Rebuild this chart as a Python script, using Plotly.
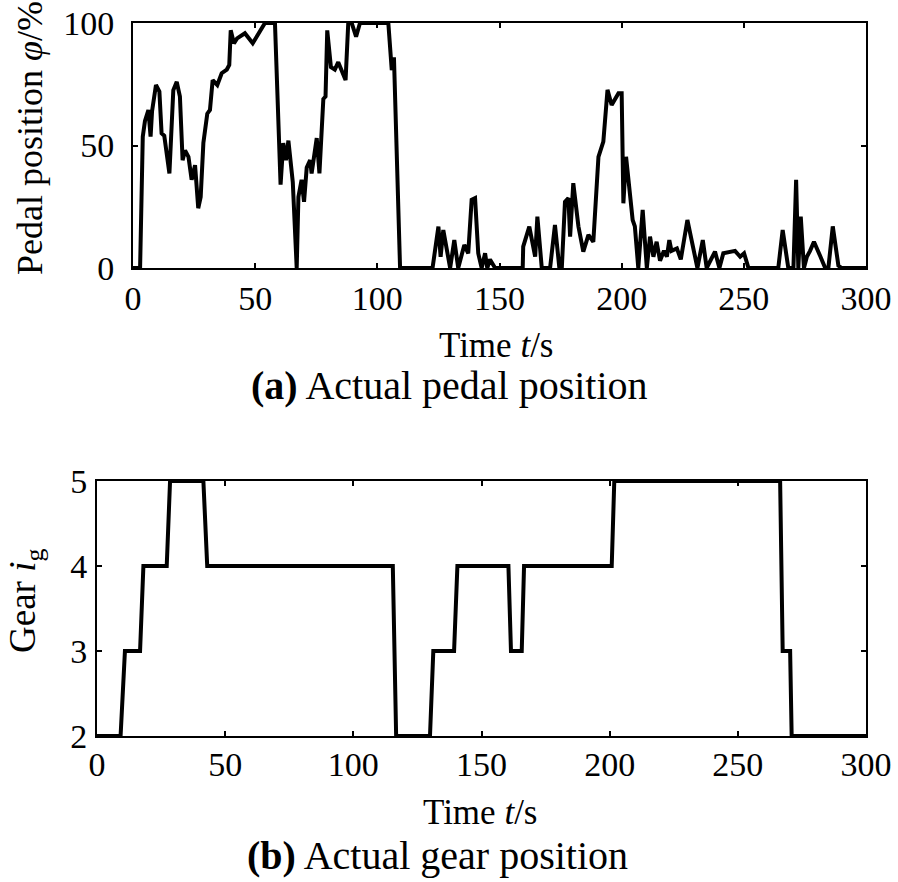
import plotly.graph_objects as go

# Pedal position data (time s, percent)
pedal_t = [0, 2.9, 4.0, 4.9, 6.3, 7.2, 7.8, 9.4, 10.8, 11.7, 12.8, 14.9, 16.5, 17.9, 19.2, 20.3, 21.3,
           22.7, 24.0, 25.4, 26.7, 27.7, 28.8, 30.4, 31.5, 32.6, 34.5, 36.3, 38.4, 39.4, 40.0, 41.3,
           42.6, 45.8, 49.0, 51.3, 52.7, 54.0, 58.1, 58.8, 59.5, 60.4, 61.5, 62.6, 63.6, 65.0, 65.4,
           67.0, 67.7, 69.0, 70.0, 71.1, 72.5, 73.1, 75.2, 76.3, 77.9, 78.8, 79.5, 81.0, 82.6, 84.0,
           85.4, 87.0, 88.1, 89.5, 91.3, 92.9, 104.5, 105.9, 106.8, 109.3, 122.6, 125.0, 125.9, 127.0,
           129.8, 131.5, 133.1, 135.6, 137.2, 138.6, 140.0, 141.3, 142.7, 144.1, 145.0, 146.1, 148.2,
           159.5, 159.7, 162.2, 164.6, 165.5, 167.3, 170.7, 172.7, 174.5, 175.5, 176.8, 178.2, 178.9,
           180.2, 182.3, 184.3, 186.4, 188.4, 190.5, 192.5, 194.2, 195.9, 198.7, 200.0, 200.7, 201.8,
           204.5, 205.4, 206.8, 208.6, 210.3, 211.6, 213.0, 214.3, 215.7, 217.3, 218.5, 219.5, 220.4,
           222.6, 224.2, 226.9, 229.3, 231.0, 233.2, 234.8, 238.2, 240.0, 241.6, 245.0, 246.4, 248.5,
           250.1, 251.9, 264.1, 265.9, 268.2, 270.3, 271.4, 272.3, 273.3, 274.6, 275.8, 277.1, 278.7,
           281.2, 283.3, 284.6, 286.4, 288.7, 290.0, 300.0]
pedal_v = [0, 0, 53.6, 60, 64.5, 53.6, 64, 74.7, 72, 55, 54, 38.6, 72.6, 76, 70, 44, 48,
           45.4, 36, 42, 24.4, 29, 51, 63, 64.5, 76.7, 74.7, 79.5, 81, 82.9, 97, 91.7,
           93.7, 95.8, 91.7, 95.8, 98.5, 100, 100, 78, 51, 34, 51, 44, 52, 38.6, 35,
           0, 29, 36, 27, 41, 44, 38.6, 53, 38.6, 69, 70, 97, 82, 81, 84,
           81, 76.7, 100, 100, 94.4, 100, 100, 80.8, 86, 0, 0, 16.9, 4.6, 15.5,
           0, 11.4, 0, 9.4, 6, 27.8, 28.5, 6, 0, 6, 0, 3.5, 0,
           0, 8.7, 16.9, 4.6, 21, 0, 0, 17.6, 0, 0, 27, 28.5, 12.8,
           34.6, 17, 6.7, 13.5, 10.7, 45.4, 51.6, 72.7, 66.5, 71.3, 71.3, 26.4, 45.4,
           19.6, 17, 0, 23.7, 0, 12.8, 4.6, 10.7, 3, 7, 4.6, 11.4, 7,
           8, 3.5, 19.6, 7, 0, 11.4, 0, 6.7, 0, 6, 6.7, 7, 4.6,
           6, 0, 0, 15.5, 0, 0, 36, 0, 21, 0, 4.6, 7, 10.7,
           5, 0, 0, 17, 1, 0, 0]

# Gear position data
gear_t = [0, 9.2, 10.9, 16.8, 18.1, 27.2, 28.5, 41.5, 43.0, 115.4, 116.7, 129.9, 131.2, 139.3,
          140.6, 160.5, 161.5, 165.7, 166.6, 200.8, 201.8, 266.5, 267.5, 270.4, 271.0, 300]
gear_v = [2, 2, 3, 3, 4, 4, 5, 5, 4, 4, 2, 2, 3, 3, 4, 4, 3, 3, 4, 4, 5, 5, 3, 3, 2, 2]

x_ticks = [0, 50, 100, 150, 200, 250, 300]
pedal_ticks = [0, 50, 100]
gear_ticks = [2, 3, 4, 5]

FONT = "Liberation Serif"
W, H = 898, 882

fig = go.Figure()
fig.add_trace(go.Scatter(x=pedal_t, y=pedal_v, mode="lines",
                         line=dict(color="black", width=4), xaxis="x", yaxis="y"))
fig.add_trace(go.Scatter(x=gear_t, y=gear_v, mode="lines",
                         line=dict(color="black", width=4), xaxis="x2", yaxis="y2"))

axis_common = dict(showline=True, linecolor="black", linewidth=2, mirror="ticks",
                   ticks="inside", ticklen=5, tickwidth=1.5, tickcolor="black",
                   showgrid=False, zeroline=False, automargin=False,
                   tickfont=dict(family=FONT, size=34, color="black"))

def px_x(p):
    return p / W

def px_y(p):
    return 1 - p / H

fig.update_layout(
    width=W, height=H,
    margin=dict(l=0, r=0, t=0, b=0, pad=0),
    paper_bgcolor="white", plot_bgcolor="white",
    showlegend=False,
    xaxis=dict(domain=[px_x(133), px_x(866)], range=[0, 300], tickvals=x_ticks,
               anchor="y", ticklabelstandoff=-1, **axis_common),
    yaxis=dict(domain=[px_y(268), px_y(23)], range=[0, 100], tickvals=pedal_ticks,
               anchor="x", ticklabelstandoff=10, **axis_common),
    xaxis2=dict(domain=[px_x(97), px_x(866)], range=[0, 300], tickvals=x_ticks,
                anchor="y2", ticklabelstandoff=-3, **axis_common),
    yaxis2=dict(domain=[px_y(736), px_y(481)], range=[2, 5], tickvals=gear_ticks,
                anchor="x2", ticklabelstandoff=1, **axis_common),
)

anns = [
    dict(text="Time <i>t</i>/s", x=px_x(496), y=px_y(345), size=35),
    dict(text="<b>(a)</b> Actual pedal position", x=px_x(449), y=px_y(385), size=40),
    dict(text="Time <i>t</i>/s", x=px_x(480), y=px_y(812), size=35),
    dict(text="<b>(b)</b> Actual gear position", x=px_x(437), y=px_y(855), size=40),
    dict(text="Pedal position <i>φ</i>/%", x=px_x(30), y=px_y(138), size=36, angle=-90),
    dict(text="Gear <i>i</i><sub>g</sub>", x=px_x(25), y=px_y(601), size=37, angle=-90),
]
for a in anns:
    fig.add_annotation(text=a["text"], x=a["x"], y=a["y"], xref="paper", yref="paper",
                       showarrow=False, font=dict(family=FONT, size=a["size"], color="black"),
                       textangle=a.get("angle", 0), xanchor="center", yanchor="middle")

fig.write_html("out.html", config={"displayModeBar": False},
               post_script="document.body.style.margin='0';document.body.style.overflow='hidden';")
